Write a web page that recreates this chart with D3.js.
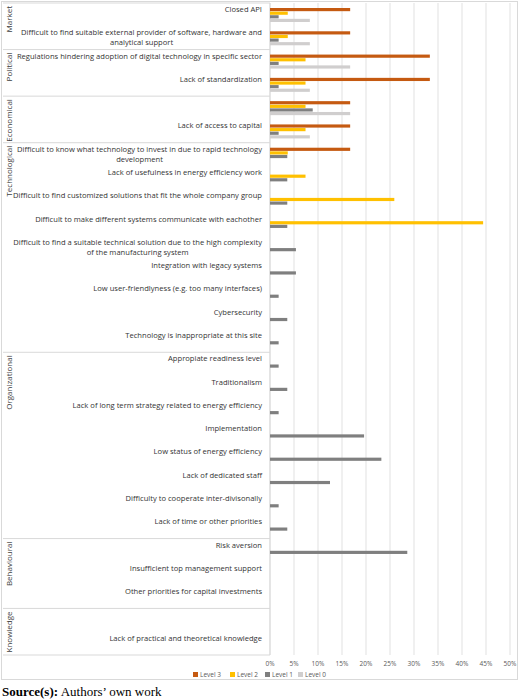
<!DOCTYPE html>
<html><head><meta charset="utf-8">
<script src="https://cdn.jsdelivr.net/npm/d3@7"></script>
<style>
body{margin:0;background:#fff;}
text{font-family:"Open Sans",sans-serif;}
</style></head>
<body><div id="chart"></div>
<script>
// categories (rows, top to bottom), group of each row, values in % per level
var categories = ["Closed API",
  "Difficult to find suitable external provider of software, hardware and|analytical support",
  "Regulations hindering adoption of digital technology in specific sector",
  "Lack of standardization",
  "",
  "Lack of access to capital",
  "Difficult to know what technology to invest in due to rapid technology|development",
  "Lack of usefulness in energy efficiency work",
  "Difficult to find customized solutions that fit the whole company group",
  "Difficult to make different systems communicate with eachother",
  "Difficult to find a suitable technical solution due to the high complexity|of the manufacturing system",
  "Integration with legacy systems",
  "Low user-friendlyness (e.g. too many interfaces)",
  "Cybersecurity",
  "Technology is inappropriate at this site",
  "Appropiate readiness level",
  "Traditionalism",
  "Lack of long term strategy related to energy efficiency",
  "Implementation",
  "Low status of energy efficiency",
  "Lack of dedicated staff",
  "Difficulty to cooperate inter-divisonally",
  "Lack of time or other priorities",
  "Risk aversion",
  "Insufficient top management support",
  "Other priorities for capital investments",
  "",
  "Lack of practical and theoretical knowledge"];
var groups = ["Market", "Political", "Economical", "Technological", "Organizational", "Behavioural", "Knowledge"];
var groupSizes = [2, 2, 2, 9, 8, 3, 2];
var level3 = [0,0,0,0,0,16.7,0,0,0,0,16.7,33.3,0,0,0,0,0,0,0,0,33.3,16.7,16.7,0,0,0,0,16.7];
var level2 = [0,0,3.7,0,0,0,3.7,0,7.4,7.4,0,7.4,0,7.4,0,3.7,0,0,0,0,7.4,0,0,25.9,0,0,0,44.4];
var level1 = [1.8,1.8,1.8,1.8,0,8.9,1.8,3.6,3.6,3.6,3.6,5.4,5.4,1.8,3.6,0,1.8,1.8,3.6,1.8,19.6,0,23.2,12.5,1.8,3.6,0,28.6];
var level0 = [0,0,0,0,0,8.3,0,0,0,0,8.3,16.7,0,0,0,0,0,0,0,0,0,0,8.3,16.7,0,0,0,8.3];
var seriesNames = ["Level 3", "Level 2", "Level 1", "Level 0"];
var colors = ["#c55a11", "#ffc000", "#7f7f7f", "#d0cece"];
var ticks = [0,5,10,15,20,25,30,35,40,45,50];

var series = [level3, level2, level1, level0];
var rowIds = categories.map(function(d, i){ return i; });

var svg = d3.select("#chart").append("svg").attr("width", 520).attr("height", 700);

var plotTop = 3, plotBottom = 655, plotLeft = 270, plotRight = 510;
var x = d3.scaleLinear().domain([0, 50]).range([plotLeft, plotRight]);
var y = d3.scaleBand().domain(rowIds).range([plotTop, plotBottom]);
var rowH = y.bandwidth();

// outer border
svg.append("rect").attr("x", 1.5).attr("y", 1.5).attr("width", 516).attr("height", 678)
  .attr("fill", "none").attr("stroke", "#d9d9d9");

// gridlines
svg.selectAll(".grid").data(ticks).enter().append("line")
  .attr("x1", function(d){ return x(d); }).attr("x2", function(d){ return x(d); })
  .attr("y1", plotTop).attr("y2", plotBottom)
  .attr("stroke", "#d9d9d9").attr("stroke-width", 0.8);

// group separators
var starts = [];
var acc = 0;
groupSizes.forEach(function(s){ starts.push(acc); acc += s; });
svg.selectAll(".sep").data(starts.concat([acc])).enter().append("line")
  .attr("x1", 3).attr("x2", plotLeft)
  .attr("y1", function(d){ return plotTop + d * rowH; }).attr("y2", function(d){ return plotTop + d * rowH; })
  .attr("stroke", "#d9d9d9").attr("stroke-width", 1);
svg.append("line").attr("x1", plotLeft).attr("x2", plotLeft).attr("y1", plotTop).attr("y2", plotBottom)
  .attr("stroke", "#d9d9d9");

// group labels (rotated)
svg.selectAll(".grp").data(groups).enter().append("text")
  .attr("transform", function(d, i){ return "translate(12," + (plotTop + starts[i] * rowH + 3) + ") rotate(-90)"; })
  .attr("text-anchor", "end").attr("font-size", 8).attr("fill", "#404040")
  .text(function(d){ return d; });

// category labels
var lab = svg.selectAll(".cat").data(categories).enter().append("text")
  .attr("text-anchor", "middle").attr("font-size", 7.6).attr("fill", "#333");
lab.each(function(d, i){
  var lines = d.split("|");
  var t = d3.select(this);
  lines.forEach(function(l, k){
    t.append("tspan").attr("y", y(i) + 9 + k * 10).text(l);
  });
  var maxW = 0;
  t.selectAll("tspan").each(function(){ maxW = Math.max(maxW, this.getComputedTextLength()); });
  t.selectAll("tspan").attr("x", 262 - maxW / 2);
});

// bars
var inner = d3.scaleBand().domain(seriesNames).range([5, 19]).paddingInner(0.12);
seriesNames.forEach(function(name, s){
  svg.selectAll(".bar" + s).data(series[s]).enter().append("rect")
    .filter(function(d){ return d > 0; })
    .attr("x", x(0))
    .attr("y", function(d, i){ return y(i) + inner(name); })
    .attr("width", function(d){ return x(d) - x(0); })
    .attr("height", inner.bandwidth())
    .attr("fill", colors[s]);
});

// x axis labels
svg.selectAll(".tick").data(ticks).enter().append("text")
  .attr("x", function(d){ return x(d); }).attr("y", 666)
  .attr("text-anchor", "middle").attr("font-size", 6.5).attr("fill", "#595959")
  .text(function(d){ return d + "%"; });

// legend
var lx = [193, 230, 265, 298];
var lg = svg.selectAll(".leg").data(seriesNames).enter().append("g")
  .attr("transform", function(d, i){ return "translate(" + lx[i] + ",672)"; });
lg.append("rect").attr("x", 0).attr("y", 0).attr("width", 5).attr("height", 5)
  .attr("fill", function(d, i){ return colors[i]; });
lg.append("text").attr("x", 7).attr("y", 5).attr("font-size", 6.5).attr("fill", "#595959")
  .text(function(d){ return d; });

// source
var src = svg.append("text").attr("x", 2).attr("y", 696).attr("font-size", 13)
  .attr("font-family", "'Liberation Serif', serif").attr("fill", "#000");
src.append("tspan").attr("font-weight", "bold").attr("font-family", "'Liberation Serif', serif").text("Source(s):");
src.append("tspan").attr("font-family", "'Liberation Serif', serif").text(" Authors’ own work");
</script></body></html>
